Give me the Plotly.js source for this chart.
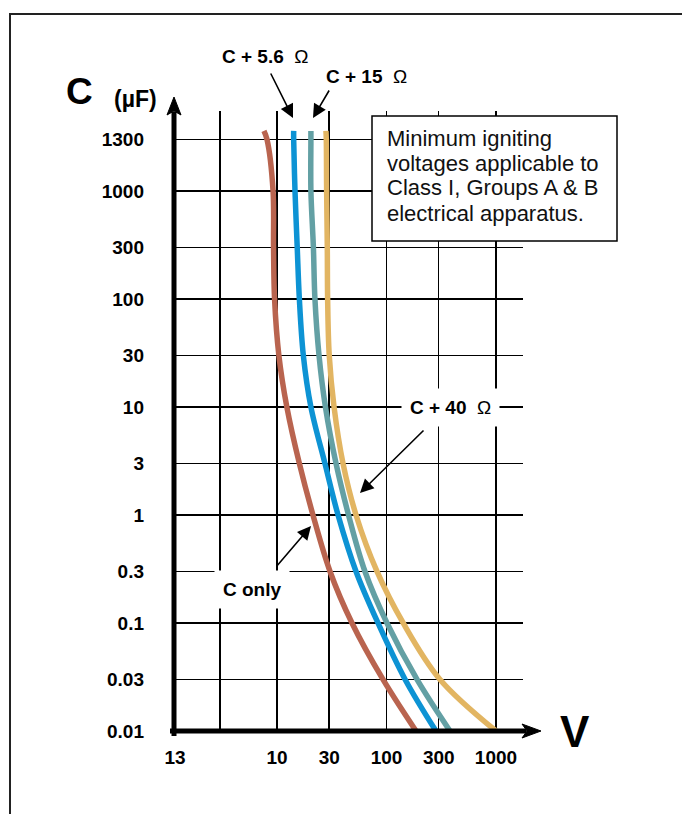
<!DOCTYPE html>
<html>
<head>
<meta charset="utf-8">
<script src="https://cdn.plot.ly/plotly-3.0.1.min.js"></script>
<style>
  html, body { margin: 0; padding: 0; background: #fff; }
  #frame { position: absolute; left: 9px; top: 13px; width: 800px; height: 900px;
           border-left: 2px solid #222; border-top: 2px solid #222; }
  #chart { position: absolute; left: 0; top: 0; width: 682px; height: 814px; }
</style>
</head>
<body>
<div id="frame"></div>
<div id="chart"></div>
<script>
// Capacitance rows (µF) — the top row is labelled "1300" on the original chart
const cValues = [3600, 3000, 1000, 300, 100, 30, 10, 3, 1, 0.3, 0.1, 0.03, 0.01];
// Minimum igniting voltage (V) read at each capacitance row
const vCOnly = [7.6, 8.1, 9.2, 9.3, 9.5, 10.4, 12.3, 16.0, 21.3, 30.5, 48.4, 92.9, 186];
const vC56   = [14.2, 14.2, 14.6, 15.3, 16.0, 17.4, 20.4, 27.4, 36.1, 52.7, 83.6, 148, 283];
const vC15   = [20.4, 20.4, 20.4, 21.5, 22.2, 24.2, 27.7, 34.6, 45.0, 63.6, 101, 190, 380];
const vC40   = [28.0, 28.2, 28.4, 28.8, 29.0, 30.0, 33.2, 40.1, 52.7, 81.9, 142, 308, 1000];

const seriesNames = ['C only', 'C + 5.6 Ω', 'C + 15 Ω', 'C + 40 Ω'];
const seriesColors = ['#b9644f', '#0d93d4', '#63a0a4', '#e2b562'];

// Axis ticks
const xTickVals = [1.17, 3, 10, 30, 100, 300, 1000];
const xTickText = ['13', '', '10', '30', '100', '300', '1000'];
const yTickVals = [0.01, 0.03, 0.1, 0.3, 1, 3, 10, 30, 100, 300, 1000, 3000];
const yTickText = ['0.01', '0.03', '0.1', '0.3', '1', '3', '10', '30', '100', '300', '1000', '1300'];

// Layout geometry (pixels)
const W = 682, H = 814;
const M = {l: 175, r: 159, t: 111, b: 83};
const PW = W - M.l - M.r, PH = H - M.t - M.b;
const px = x => (x - M.l) / PW;          // pixel x -> paper
const py = y => (H - M.b - y) / PH;      // pixel y -> paper

const FONT = 'Liberation Sans, Arial, Helvetica, sans-serif';

const traces = [vCOnly, vC56, vC15, vC40].map((v, i) => ({
  type: 'scatter', mode: 'lines', name: seriesNames[i],
  x: v, y: cValues,
  line: {color: seriesColors[i], width: 5.5, shape: 'spline', smoothing: 1},
  hoverinfo: 'skip'
}));

function pathOf(pts) {
  return 'M ' + pts.map(p => px(p[0]) + ' ' + py(p[1])).join(' L ') + ' Z';
}

const shapes = [
  // y axis
  {type: 'line', xref: 'paper', yref: 'paper', x0: px(174), x1: px(174), y0: py(736), y1: py(112),
   line: {color: '#000', width: 5}, layer: 'above'},
  {type: 'path', xref: 'paper', yref: 'paper',
   path: pathOf([[174, 97], [167, 115], [174, 111], [181, 115]]),
   fillcolor: '#000', line: {color: '#000', width: 1}, layer: 'above'},
  // x axis
  {type: 'line', xref: 'paper', yref: 'paper', x0: px(170), x1: px(526), y0: py(731), y1: py(731),
   line: {color: '#000', width: 5}, layer: 'above'},
  {type: 'path', xref: 'paper', yref: 'paper',
   path: pathOf([[541, 731], [522, 724], [527, 731], [522, 738]]),
   fillcolor: '#000', line: {color: '#000', width: 1}, layer: 'above'},
  // note box
  {type: 'rect', xref: 'paper', yref: 'paper', x0: px(372), x1: px(617), y0: py(241), y1: py(116),
   fillcolor: '#fff', line: {color: '#000', width: 1.5}, layer: 'above'}
];

const lbl = {family: FONT, size: 19, color: '#000'};
const ann = (text, x, y, extra) => Object.assign({
  text: text, xref: 'paper', yref: 'paper', x: px(x), y: py(y),
  xanchor: 'center', yanchor: 'middle', showarrow: false, font: lbl
}, extra || {});
const arrow = (tx, ty, hx, hy) => ({
  text: '', xref: 'paper', yref: 'paper', x: px(hx), y: py(hy),
  ax: tx - hx, ay: ty - hy, axref: 'pixel', ayref: 'pixel',
  showarrow: true, arrowhead: 2, arrowsize: 1.7, arrowwidth: 1.6, arrowcolor: '#000', standoff: 0
});

const noteLines = ['Minimum igniting', 'voltages applicable to', 'Class I, Groups A & B', 'electrical apparatus.'];
const noteY = [138, 163, 188, 213];

const annotations = [
  ann('<b>C</b>', 80, 92, {font: {family: FONT, size: 37, color: '#000'}}),
  ann('<b>(µF)</b>', 135, 99, {font: {family: FONT, size: 23, color: '#000'}}),
  ann('<b>V</b>', 575, 731, {font: {family: FONT, size: 44, color: '#000'}}),
  ann('<b>C + 5.6</b>&nbsp; Ω', 265, 57),
  ann('<b>C + 15</b>&nbsp; Ω', 366, 76),
  ann('<b>C + 40</b>&nbsp; Ω', 450, 407, {bgcolor: '#fff', borderpad: 8}),
  ann('<b>C only</b>', 252, 589, {bgcolor: '#fff', borderpad: 8}),
  arrow(270, 72, 293, 118),
  arrow(330, 89, 313, 118),
  arrow(425, 429, 360, 493),
  arrow(276, 567, 311, 526)
].concat(noteLines.map((t, i) => ({
  text: t, xref: 'paper', yref: 'paper', x: px(385), y: py(noteY[i]),
  xanchor: 'left', yanchor: 'middle', showarrow: false,
  font: {family: FONT, size: 22, color: '#111'}
})));

const layout = {
  width: W, height: H,
  margin: M,
  paper_bgcolor: 'rgba(0,0,0,0)',
  plot_bgcolor: '#fff',
  showlegend: false,
  xaxis: {
    type: 'log', range: [Math.log10(1.17), Math.log10(1766)],
    tickmode: 'array', tickvals: xTickVals, ticktext: xTickText,
    showgrid: true, gridcolor: '#000', gridwidth: 1.5, zeroline: false, showline: false,
    ticks: '', ticklabelstandoff: 13,
    tickfont: {family: FONT, size: 19, color: '#000', weight: 'bold'}
  },
  yaxis: {
    type: 'log', range: [-2, Math.log10(5500)],
    tickmode: 'array', tickvals: yTickVals, ticktext: yTickText,
    showgrid: true, gridcolor: '#000', gridwidth: 1.5, zeroline: false, showline: false,
    ticks: '', ticklabelstandoff: 30,
    tickfont: {family: FONT, size: 19, color: '#000', weight: 'bold'}
  },
  shapes: shapes,
  annotations: annotations
};

Plotly.newPlot('chart', traces, layout, {displayModeBar: false, staticPlot: true});
</script>
</body>
</html>
